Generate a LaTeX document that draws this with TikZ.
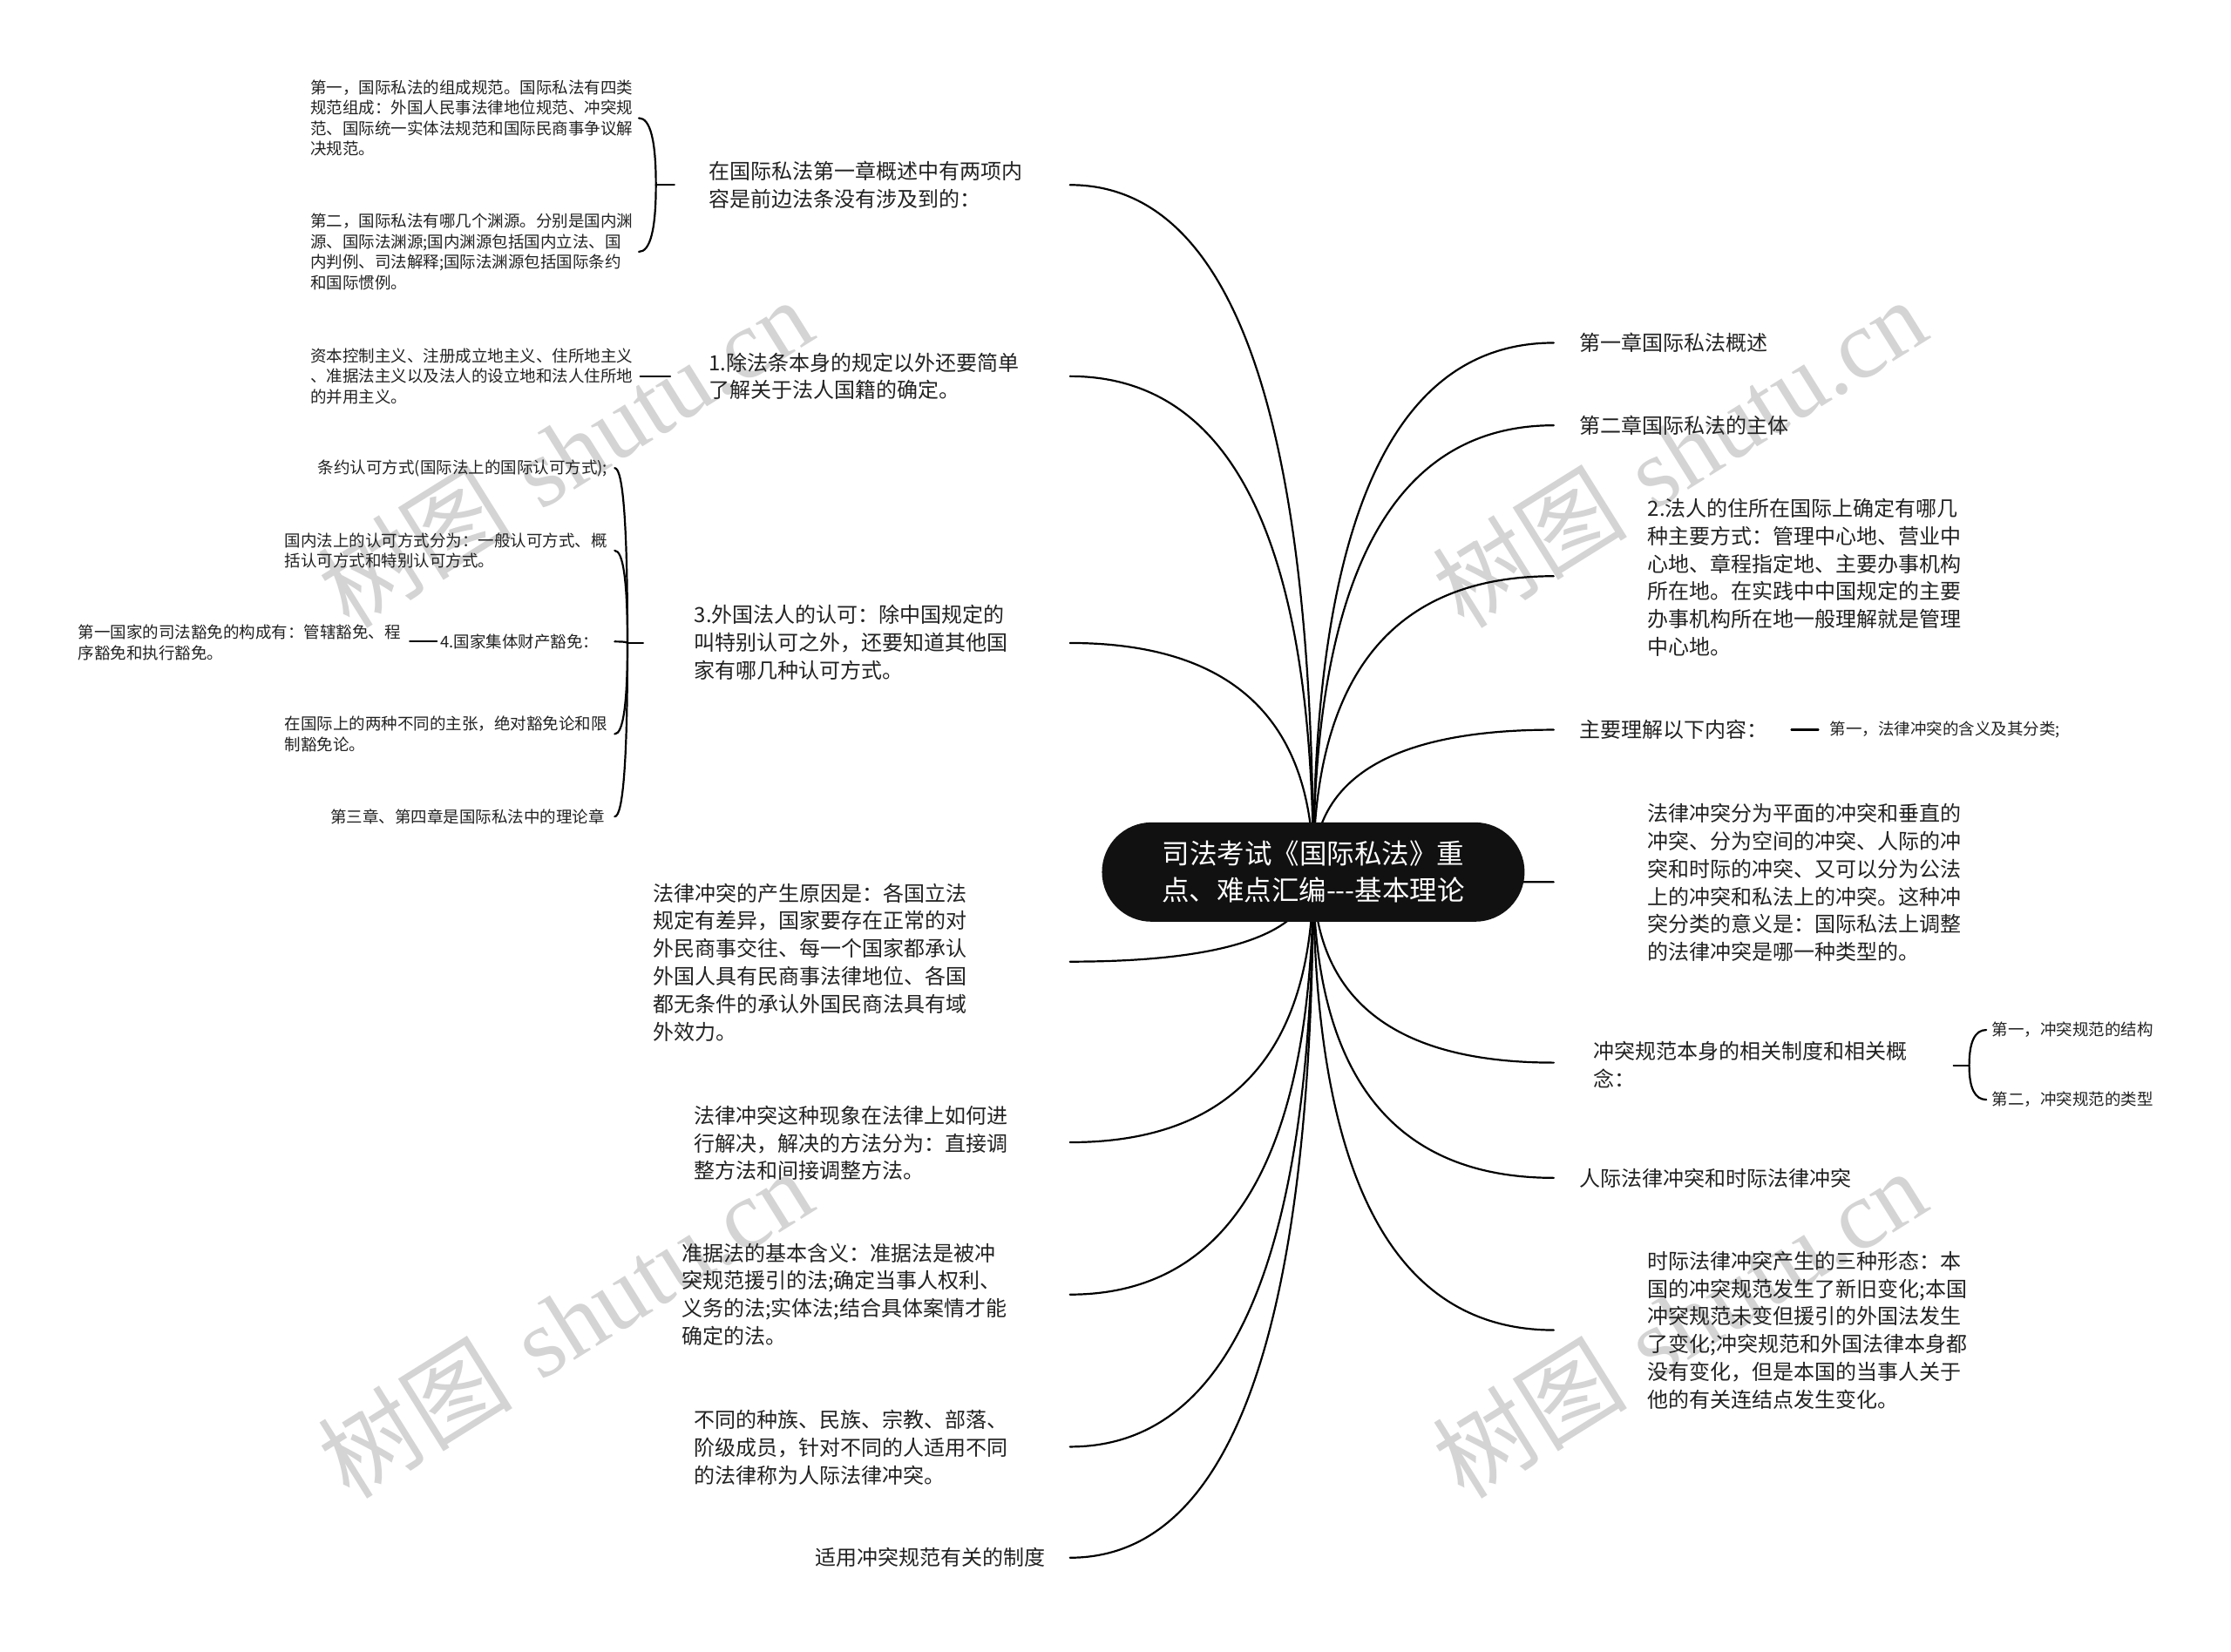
\documentclass[tikz,border=0pt]{standalone}
\usepackage{fontspec}
\usetikzlibrary{calc}
\newfontfamily\cjk{Noto Sans CJK SC}
\newfontfamily\wmf{Liberation Serif}
\definecolor{txt}{HTML}{222222}
\definecolor{cbg}{HTML}{111111}
\definecolor{wmc}{HTML}{D4D4D4}
\tikzset{
  conn/.style={line width=2.2pt, draw=black, line cap=round},
  lone/.style={font=\cjk\fontsize{24}{31.8}\selectfont, text=txt, align=left, inner sep=0pt},
  ltwo/.style={font=\cjk\fontsize{18.5}{23.6}\selectfont, text=txt, align=left, inner sep=0pt},
  rootbox/.style={fill=cbg, rounded corners=57pt, minimum width=485pt, minimum height=114pt,
     text=white, align=center, inner sep=0pt, font=\cjk\fontsize{31.5}{42}\selectfont},
  wmark/.style={text=wmc, inner sep=0pt, font=\fontsize{112}{112}\selectfont}
}
\newcommand\mmcurve[2]{\draw[conn] let \p1=(#1), \p2=(#2) in (\p1) .. controls (\x1,{\y1+2/3*(\y2-\y1)}) and ({\x2+2/3*(\x1-\x2)},\y2) .. (\p2);}
\begin{document}
\begin{tikzpicture}[x=1.6327pt, y=-1.6327pt]
\useasboundingbox (0,0) rectangle (1568,1161);
\fill[white] (0,0) rectangle (1568,1161);

% watermarks
\node[wmark, rotate=32] (wm1) at (397,318) {{\cjk 树图} {\wmf shutu.cn}};
\node[wmark, rotate=32] (wm2) at (1180,318) {{\cjk 树图} {\wmf shutu.cn}};
\node[wmark, rotate=32] (wm3) at (397,930) {{\cjk 树图} {\wmf shutu.cn}};
\node[wmark, rotate=32] (wm4) at (1180,930) {{\cjk 树图} {\wmf shutu.cn}};

% connection points
\coordinate (c0c) at (923,613);
\coordinate (eA) at (752,130);
\coordinate (eB) at (752,264.5);
\coordinate (eC) at (752,452);
\coordinate (eD) at (752,676);
\coordinate (eE) at (752,803);
\coordinate (eF) at (752,910);
\coordinate (eG) at (752,1017);
\coordinate (eH) at (752,1095);
\coordinate (eR1) at (1092,241);
\coordinate (eR2) at (1092,299);
\coordinate (eR3) at (1092,405);
\coordinate (eR4) at (1092,513);
\coordinate (eR5) at (1092,620);
\coordinate (eR6) at (1092,747);
\coordinate (eR7) at (1092,828);
\coordinate (eR8) at (1092,935);

\coordinate (tA) at (474,130);
\coordinate (bA) at (461,130);
\coordinate (eA1) at (449,83);
\coordinate (eA2) at (449,177);
\coordinate (tB) at (471,264.5);
\coordinate (eB1) at (450,264.5);
\coordinate (tC) at (452,452);
\coordinate (bC) at (441,452);
\coordinate (eC1) at (432,329);
\coordinate (eC2) at (432,387);
\coordinate (eC3) at (432,451);
\coordinate (eC4) at (432,516);
\coordinate (eC5) at (432,574);
\coordinate (tC3) at (307,451);
\coordinate (eC3a) at (288,451);
\coordinate (tR4) at (1259,513);
\coordinate (eR4a) at (1278,513);
\coordinate (tR6) at (1373,749);
\coordinate (bR6) at (1384,749);
\coordinate (eR6a) at (1396,724);
\coordinate (eR6b) at (1396,773);

% connectors
\foreach \t in {eA,eB,eC,eD,eE,eF,eG,eH,eR1,eR2,eR3,eR4,eR5,eR6,eR7,eR8}{\mmcurve{c0c}{\t}}
\draw[conn] (tA) -- (bA);
\mmcurve{bA}{eA1}
\mmcurve{bA}{eA2}
\draw[conn] (tB) -- (eB1);
\draw[conn] (tC) -- (bC);
\foreach \t in {eC1,eC2,eC3,eC4,eC5}{\mmcurve{bC}{\t}}
\draw[conn] (tC3) -- (eC3a);
\draw[conn] (tR4) -- (eR4a);
\draw[conn] (tR6) -- (bR6);
\mmcurve{bR6}{eR6a}
\mmcurve{bR6}{eR6b}

% root
\node[rootbox] (c0) at (c0c) {司法考试《国际私法》重\\点、难点汇编---基本理论};

% left level 1
\node[lone, anchor=west] (A) at (498,130) {在国际私法第一章概述中有两项内\\容是前边法条没有涉及到的：};
\node[lone, anchor=west] (B) at (498,264.5) {1.除法条本身的规定以外还要简单\\了解关于法人国籍的确定。};
\node[lone, anchor=west] (C) at (488,451.5) {3.外国法人的认可：除中国规定的\\叫特别认可之外，还要知道其他国\\家有哪几种认可方式。};
\node[lone, anchor=west] (D) at (459,676.5) {法律冲突的产生原因是：各国立法\\规定有差异，国家要存在正常的对\\外民商事交往、每一个国家都承认\\外国人具有民商事法律地位、各国\\都无条件的承认外国民商法具有域\\外效力。};
\node[lone, anchor=west] (E) at (488,803.5) {法律冲突这种现象在法律上如何进\\行解决，解决的方法分为：直接调\\整方法和间接调整方法。};
\node[lone, anchor=west] (F) at (479,910) {准据法的基本含义：准据法是被冲\\突规范援引的法;确定当事人权利、\\义务的法;实体法;结合具体案情才能\\确定的法。};
\node[lone, anchor=west] (G) at (488,1017.5) {不同的种族、民族、宗教、部落、\\阶级成员，针对不同的人适用不同\\的法律称为人际法律冲突。};
\node[lone, anchor=east] (H) at (735,1095) {适用冲突规范有关的制度};

% right level 1
\node[lone, anchor=west] (R1) at (1110,241) {第一章国际私法概述};
\node[lone, anchor=west] (R2) at (1110,299) {第二章国际私法的主体};
\node[lone, anchor=west] (R3) at (1158,406) {2.法人的住所在国际上确定有哪几\\种主要方式：管理中心地、营业中\\心地、章程指定地、主要办事机构\\所在地。在实践中中国规定的主要\\办事机构所在地一般理解就是管理\\中心地。};
\node[lone, anchor=west] (R4) at (1110,513) {主要理解以下内容：};
\node[lone, anchor=west] (R5) at (1158,620.5) {法律冲突分为平面的冲突和垂直的\\冲突、分为空间的冲突、人际的冲\\突和时际的冲突、又可以分为公法\\上的冲突和私法上的冲突。这种冲\\突分类的意义是：国际私法上调整\\的法律冲突是哪一种类型的。};
\node[lone, anchor=west] (R6) at (1120,748.5) {冲突规范本身的相关制度和相关概\\念：};
\node[lone, anchor=west] (R7) at (1110,828) {人际法律冲突和时际法律冲突};
\node[lone, anchor=west] (R8) at (1158,935) {时际法律冲突产生的三种形态：本\\国的冲突规范发生了新旧变化;本国\\冲突规范未变但援引的外国法发生\\了变化;冲突规范和外国法律本身都\\没有变化，但是本国的当事人关于\\他的有关连结点发生变化。};

% level 2 left
\node[ltwo, anchor=west] (A1) at (218,83) {第一，国际私法的组成规范。国际私法有四类\\规范组成：外国人民事法律地位规范、冲突规\\范、国际统一实体法规范和国际民商事争议解\\决规范。};
\node[ltwo, anchor=west] (A2) at (218,177) {第二，国际私法有哪几个渊源。分别是国内渊\\源、国际法渊源;国内渊源包括国内立法、国\\内判例、司法解释;国际法渊源包括国际条约\\和国际惯例。};
\node[ltwo, anchor=west] (B1) at (218,264.5) {资本控制主义、注册成立地主义、住所地主义\\、准据法主义以及法人的设立地和法人住所地\\的并用主义。};
\node[ltwo, anchor=east] (C1) at (427,329) {条约认可方式(国际法上的国际认可方式);};
\node[ltwo, anchor=east] (C2) at (427,387) {国内法上的认可方式分为：一般认可方式、概\\括认可方式和特别认可方式。};
\node[ltwo, anchor=east] (C3) at (421,451) {4.国家集体财产豁免：};
\node[ltwo, anchor=east] (C4) at (427,516) {在国际上的两种不同的主张，绝对豁免论和限\\制豁免论。};
\node[ltwo, anchor=east] (C5) at (425,574) {第三章、第四章是国际私法中的理论章};
\node[ltwo, anchor=west] (C3a) at (55,451.5) {第一国家的司法豁免的构成有：管辖豁免、程\\序豁免和执行豁免。};

% level 2 right
\node[ltwo, anchor=west] (R4a) at (1286,513) {第一，法律冲突的含义及其分类;};
\node[ltwo, anchor=west] (R6a) at (1400,724) {第一，冲突规范的结构};
\node[ltwo, anchor=west] (R6b) at (1400,773) {第二，冲突规范的类型};
\end{tikzpicture}
\end{document}
